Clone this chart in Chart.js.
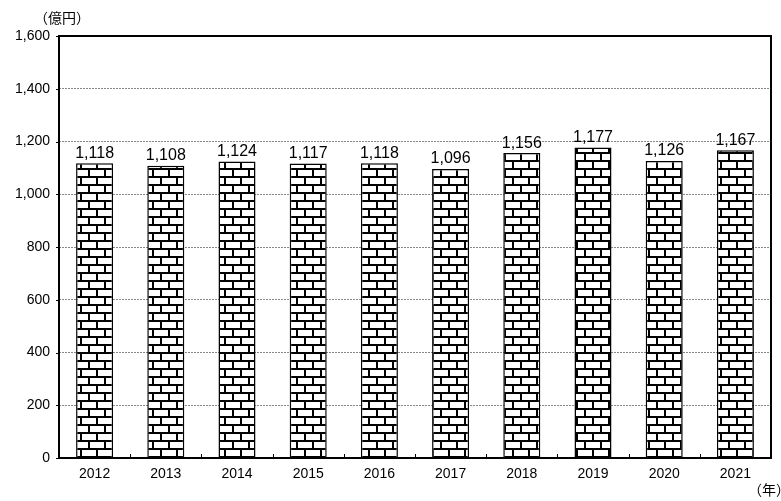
<!doctype html>
<html lang="ja">
<head>
<meta charset="utf-8">
<title>Bar Chart</title>
<style>
  body { margin: 0; background: #fff; }
</style>
</head>
<body>
<canvas id="myChart" width="781" height="501"></canvas>
<script src="https://cdn.jsdelivr.net/npm/chart.js"></script>
<script>
var years = ['2012','2013','2014','2015','2016','2017','2018','2019','2020','2021'];
var values = [1118, 1108, 1124, 1117, 1118, 1096, 1156, 1177, 1126, 1167];
var yTicks = [0, 200, 400, 600, 800, 1000, 1200, 1400, 1600];
var unitY = '（億円）';
var unitX = '（年）';

var FONT = '"Liberation Sans", Arial, "Noto Sans CJK JP", sans-serif';

// brick pattern
function brick() {
    var c = document.createElement('canvas');
    c.width = 16; c.height = 16;
    var g = c.getContext('2d');
    g.fillStyle = '#fff';
    g.fillRect(0, 0, 16, 16);
    g.fillStyle = '#000';
    g.fillRect(0, 0, 16, 2);
    g.fillRect(0, 8, 16, 2);
    g.fillRect(0, 0, 2, 8);
    g.fillRect(8, 8, 2, 8);
    return g.createPattern(c, 'repeat');
}

var extras = {
    id: 'extras',
    afterDatasetsDraw: function(chart) {
        var ctx = chart.ctx;
        var a = chart.chartArea;
        var xs = chart.scales.x, ys = chart.scales.y;
        ctx.save();
        // frame
        ctx.strokeStyle = '#000';
        ctx.lineWidth = 2;
        ctx.strokeRect(a.left, a.top, a.right - a.left, a.bottom - a.top);
        // small ticks
        ctx.lineWidth = 1;
        ctx.beginPath();
        for (var i = 1; i < years.length; i++) {
            var x = Math.round(xs.getPixelForValue(i - 0.5)) + 0.5;
            ctx.moveTo(x, a.bottom);
            ctx.lineTo(x, a.bottom - 4);
        }
        yTicks.forEach(function(v) {
            var y = Math.round(ys.getPixelForValue(v)) + 0.5;
            ctx.moveTo(a.left - 3, y);
            ctx.lineTo(a.left, y);
        });
        ctx.stroke();
        // value labels
        ctx.fillStyle = '#000';
        ctx.font = '16px ' + FONT;
        ctx.textAlign = 'center';
        ctx.textBaseline = 'bottom';
        chart.getDatasetMeta(0).data.forEach(function(bar, i) {
            ctx.fillText(values[i].toLocaleString('en-US'), bar.x, bar.y - 2);
        });
        // units
        ctx.font = '14px ' + FONT;
        ctx.textAlign = 'left';
        ctx.textBaseline = 'middle';
        ctx.fillText(unitY, 34, 19);
        ctx.fillText(unitX, 748, 491);
        ctx.restore();
    }
};

var ctx = document.getElementById('myChart');
new Chart(ctx, {
    type: 'bar',
    data: {
        labels: years,
        datasets: [{
            data: values,
            backgroundColor: brick(),
            borderColor: '#000',
            borderWidth: 1.5,
            barPercentage: 0.52,
            categoryPercentage: 1
        }]
    },
    options: {
        responsive: false,
        animation: false,
        layout: { padding: { top: 36, right: 10, left: 0, bottom: 0 } },
        plugins: {
            legend: { display: false },
            tooltip: { enabled: false }
        },
        scales: {
            x: {
                grid: { display: false },
                border: { display: false },
                ticks: { color: '#000', font: { size: 14, family: FONT }, padding: 0 },
                afterFit: function(s) { s.height = 43; }
            },
            y: {
                min: 0,
                max: 1600,
                afterBuildTicks: function(s) {
                    s.ticks = yTicks.map(function(v) { return { value: v }; });
                },
                grid: { color: '#888', lineWidth: 1, drawTicks: false },
                border: { display: false, dash: [2, 1] },
                ticks: {
                    color: '#000',
                    font: { size: 14, family: FONT },
                    padding: 9,
                    callback: function(v) { return v.toLocaleString('en-US'); }
                },
                afterFit: function(s) { s.width = 59; }
            }
        }
    },
    plugins: [extras]
});
</script>
</body>
</html>
